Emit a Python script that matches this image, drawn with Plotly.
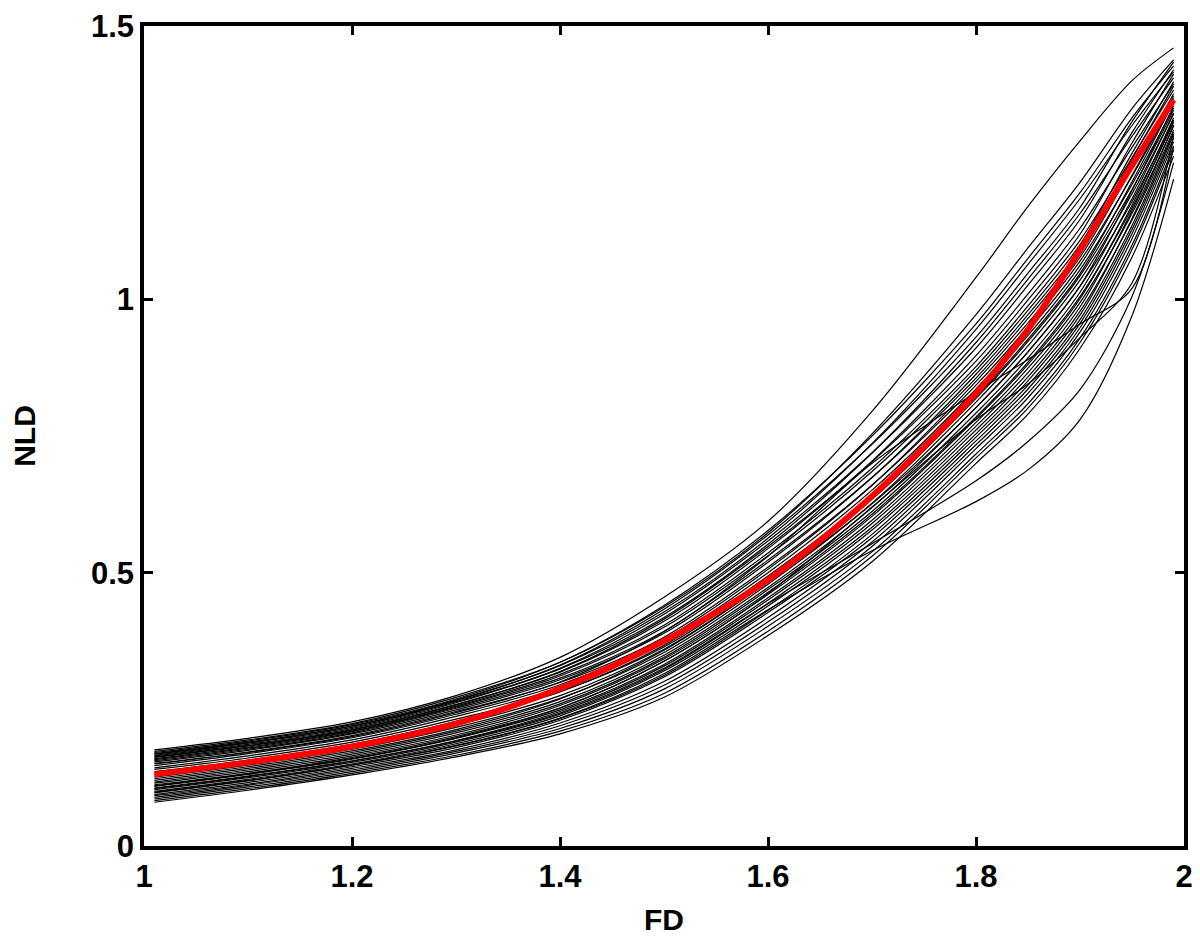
import plotly.graph_objects as go

# sample positions along FD (x axis)
fd = [1.01, 1.1, 1.2, 1.3, 1.4, 1.5, 1.6, 1.7, 1.8, 1.85, 1.9, 1.95, 1.99]

# individual NLD curves (black)
c01 = [0.176, 0.197, 0.227, 0.275, 0.345, 0.455, 0.594, 0.795, 1.040, 1.170, 1.290, 1.400, 1.460]
c02 = [0.173, 0.194, 0.224, 0.272, 0.336, 0.437, 0.573, 0.754, 0.972, 1.094, 1.214, 1.349, 1.438]
c03 = [0.171, 0.192, 0.222, 0.269, 0.336, 0.440, 0.577, 0.750, 0.955, 1.075, 1.195, 1.332, 1.427]
c04 = [0.169, 0.190, 0.220, 0.267, 0.330, 0.428, 0.563, 0.736, 0.945, 1.064, 1.184, 1.318, 1.416]
c05 = [0.168, 0.189, 0.219, 0.266, 0.331, 0.433, 0.569, 0.735, 0.931, 1.048, 1.168, 1.325, 1.434]
c06 = [0.166, 0.188, 0.217, 0.264, 0.324, 0.418, 0.552, 0.719, 0.921, 1.037, 1.157, 1.298, 1.405]
c07 = [0.165, 0.186, 0.215, 0.262, 0.325, 0.424, 0.558, 0.719, 0.911, 1.026, 1.146, 1.305, 1.420]
c08 = [0.163, 0.184, 0.213, 0.259, 0.318, 0.411, 0.544, 0.704, 0.897, 1.010, 1.130, 1.278, 1.394]
c09 = [0.162, 0.183, 0.212, 0.258, 0.319, 0.415, 0.548, 0.703, 0.887, 0.999, 1.119, 1.286, 1.412]
c10 = [0.160, 0.181, 0.210, 0.256, 0.314, 0.404, 0.536, 0.691, 0.877, 0.988, 1.108, 1.259, 1.383]
c11 = [0.158, 0.179, 0.209, 0.254, 0.311, 0.400, 0.531, 0.685, 0.870, 0.980, 1.100, 1.267, 1.398]
c12 = [0.156, 0.177, 0.207, 0.252, 0.307, 0.393, 0.523, 0.674, 0.856, 0.965, 1.085, 1.240, 1.372]
c13 = [0.154, 0.175, 0.205, 0.249, 0.304, 0.389, 0.519, 0.674, 0.863, 0.972, 1.092, 1.257, 1.390]
c14 = [0.151, 0.172, 0.202, 0.246, 0.299, 0.382, 0.510, 0.660, 0.843, 0.950, 1.070, 1.225, 1.361]
c15 = [0.147, 0.169, 0.198, 0.241, 0.295, 0.378, 0.506, 0.660, 0.850, 0.957, 1.077, 1.240, 1.376]
c16 = [0.143, 0.165, 0.194, 0.237, 0.290, 0.373, 0.500, 0.651, 0.836, 0.942, 1.062, 1.227, 1.368]
c17 = [0.140, 0.161, 0.190, 0.232, 0.283, 0.364, 0.490, 0.641, 0.829, 0.934, 1.054, 1.210, 1.350]
c18 = [0.136, 0.157, 0.186, 0.228, 0.282, 0.367, 0.494, 0.641, 0.822, 0.927, 1.047, 1.215, 1.361]
c19 = [0.130, 0.151, 0.180, 0.221, 0.275, 0.360, 0.485, 0.634, 0.819, 0.923, 1.043, 1.201, 1.346]
c20 = [0.126, 0.148, 0.177, 0.217, 0.270, 0.354, 0.479, 0.627, 0.812, 0.915, 1.035, 1.193, 1.339]
c21 = [0.123, 0.145, 0.174, 0.213, 0.269, 0.358, 0.483, 0.626, 0.802, 0.904, 1.024, 1.199, 1.354]
c22 = [0.120, 0.142, 0.171, 0.210, 0.264, 0.349, 0.473, 0.619, 0.802, 0.904, 1.024, 1.179, 1.328]
c23 = [0.117, 0.139, 0.168, 0.207, 0.260, 0.345, 0.469, 0.612, 0.792, 0.893, 1.013, 1.184, 1.341]
c24 = [0.115, 0.136, 0.165, 0.203, 0.257, 0.342, 0.464, 0.607, 0.785, 0.885, 1.005, 1.167, 1.324]
c25 = [0.112, 0.133, 0.162, 0.200, 0.253, 0.338, 0.460, 0.603, 0.782, 0.881, 1.001, 1.172, 1.332]
c26 = [0.109, 0.131, 0.159, 0.197, 0.249, 0.332, 0.454, 0.596, 0.775, 0.874, 0.994, 1.157, 1.317]
c27 = [0.106, 0.128, 0.156, 0.193, 0.246, 0.329, 0.450, 0.590, 0.768, 0.866, 0.986, 1.162, 1.328]
c28 = [0.103, 0.125, 0.153, 0.190, 0.241, 0.323, 0.444, 0.583, 0.761, 0.858, 0.978, 1.145, 1.310]
c29 = [0.100, 0.122, 0.150, 0.187, 0.238, 0.320, 0.439, 0.578, 0.754, 0.851, 0.971, 1.148, 1.319]
c30 = [0.097, 0.119, 0.148, 0.183, 0.233, 0.312, 0.431, 0.570, 0.748, 0.843, 0.963, 1.135, 1.306]
c31 = [0.094, 0.116, 0.145, 0.180, 0.230, 0.309, 0.427, 0.564, 0.741, 0.836, 0.956, 1.128, 1.302]
c32 = [0.092, 0.113, 0.142, 0.176, 0.225, 0.301, 0.418, 0.556, 0.734, 0.828, 0.948, 1.120, 1.295]
c33 = [0.089, 0.111, 0.139, 0.173, 0.220, 0.294, 0.410, 0.548, 0.727, 0.820, 0.940, 1.111, 1.288]
c34 = [0.086, 0.108, 0.136, 0.170, 0.215, 0.287, 0.402, 0.538, 0.717, 0.809, 0.929, 1.099, 1.280]
c35 = [0.083, 0.105, 0.133, 0.166, 0.210, 0.279, 0.393, 0.530, 0.710, 0.801, 0.921, 1.091, 1.273]
c36 = [0.080, 0.102, 0.130, 0.163, 0.205, 0.272, 0.385, 0.520, 0.700, 0.790, 0.910, 1.077, 1.262]
c37 = [0.105, 0.127, 0.155, 0.192, 0.243, 0.325, 0.443, 0.553, 0.668, 0.740, 0.835, 1.005, 1.250]
c38 = [0.098, 0.120, 0.148, 0.184, 0.234, 0.315, 0.432, 0.540, 0.630, 0.688, 0.780, 0.970, 1.220]
c39 = [0.150, 0.171, 0.200, 0.244, 0.300, 0.392, 0.530, 0.700, 0.830, 0.890, 0.955, 1.020, 1.280]
c40 = [0.110, 0.132, 0.160, 0.198, 0.252, 0.338, 0.462, 0.620, 0.780, 0.845, 0.930, 1.030, 1.300]

curves = [c01, c02, c03, c04, c05, c06, c07, c08, c09, c10,
          c11, c12, c13, c14, c15, c16, c17, c18, c19, c20,
          c21, c22, c23, c24, c25, c26, c27, c28, c29, c30,
          c31, c32, c33, c34, c35, c36, c37, c38, c39, c40]

# mean curve (red)
mean_nld = [0.131, 0.153, 0.182, 0.224, 0.288, 0.375, 0.487, 0.640, 0.828, 0.945, 1.090, 1.245, 1.365]

x_ticks = [1, 1.2, 1.4, 1.6, 1.8, 2]
x_ticktext = ["1", "1.2", "1.4", "1.6", "1.8", "2"]
y_ticks = [0, 0.5, 1, 1.5]
y_ticktext = ["0", "0.5", "1", "1.5"]

FONT = "Liberation Sans, Arial, Helvetica, sans-serif"

fig = go.Figure()
for cv in curves:
    fig.add_trace(go.Scatter(x=fd, y=cv, mode="lines",
                             line=dict(color="black", width=1.2, shape="spline", smoothing=0.9),
                             showlegend=False, hoverinfo="skip"))
fig.add_trace(go.Scatter(x=fd, y=mean_nld, mode="lines",
                         line=dict(color="#ff0000", width=6, shape="spline", smoothing=0.9),
                         showlegend=False))

axis_common = dict(showline=True, linecolor="black", linewidth=3.5, mirror="ticks",
                   ticks="inside", ticklen=9, tickwidth=3, tickcolor="black",
                   showgrid=False, zeroline=False, ticklabeloverflow="allow",
                   tickfont=dict(family=FONT, size=31, color="black", weight="bold"))

fig.update_xaxes(range=[1, 2], tickvals=x_ticks, ticktext=x_ticktext,
                 title=dict(text="FD", font=dict(family=FONT, size=30, color="black", weight="bold"),
                            standoff=18),
                 **axis_common)
fig.update_yaxes(range=[0, 1.5], tickvals=y_ticks, ticktext=y_ticktext,
                 title=dict(text="NLD", font=dict(family=FONT, size=30, color="black", weight="bold"),
                            standoff=52),
                 **axis_common)

# the page body has an 8px margin, so the figure is shifted by 8px right and down
fig.update_layout(width=1192, height=928, plot_bgcolor="white", paper_bgcolor="white",
                  margin=dict(l=136, r=16, t=18, b=90, autoexpand=False),
                  showlegend=False)

fig.write_html("out.html")
